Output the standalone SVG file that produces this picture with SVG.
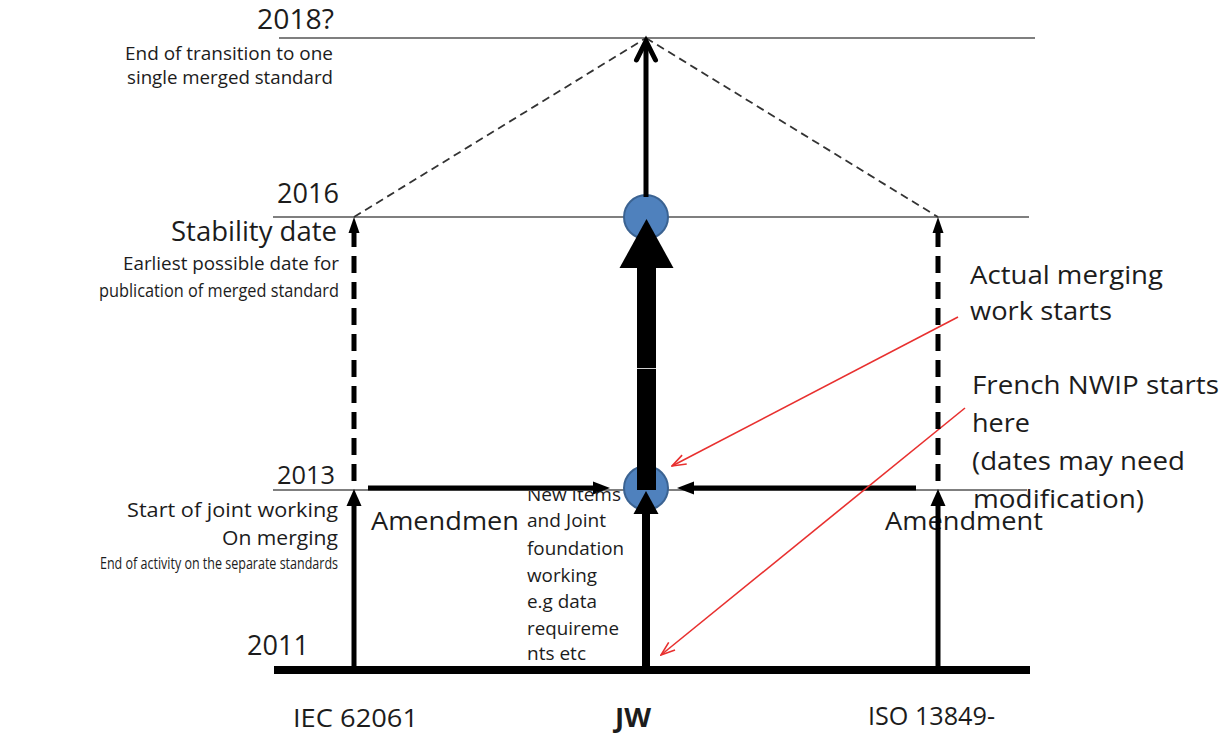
<svg xmlns="http://www.w3.org/2000/svg" width="1231" height="733" viewBox="0 0 1231 733">
<style>
text{font-family:"Open Sans","Noto Sans","Liberation Sans",sans-serif;fill:#1c1c1c}
.yr{font-size:27px}
.sm{font-size:18px}
.md{font-size:20px}
.lg{font-size:26px}
.note{font-size:25px}
.end{text-anchor:end}
.grid{stroke:#555;stroke-width:1.6;fill:none}
.blk{stroke:#000;fill:none}
.dash{stroke:#000;stroke-width:5;stroke-dasharray:17 9;fill:none}
.diag{stroke:#333;stroke-width:1.8;stroke-dasharray:8 5;fill:none}
.head{fill:#000}
.node{fill:#4f81bd;stroke:#3b6392;stroke-width:2}
.red{stroke:#e8302f;stroke-width:1.6;fill:none}
</style>
<defs>
<marker id="ra" viewBox="0 0 16 12" refX="15" refY="6" markerWidth="16" markerHeight="12" markerUnits="userSpaceOnUse" orient="auto">
<path d="M1,1 L15,6 L1,11" fill="none" stroke="#e8302f" stroke-width="1.6"/>
</marker>
<clipPath id="clipNew"><rect x="500" y="491" width="200" height="200"/></clipPath>
</defs>
<rect width="1231" height="733" fill="#fff"/>

<g id="timeline">
<line class="grid" x1="279" y1="38" x2="1035" y2="38"/>
<line class="grid" x1="273" y1="217" x2="1029" y2="217"/>
<line class="grid" x1="273" y1="490" x2="1027" y2="490"/>
<line class="blk" x1="274" y1="670" x2="1030" y2="670" stroke-width="8"/>
</g>

<g id="year-labels">
<text class="yr" x="334" y="29" textLength="77" lengthAdjust="spacingAndGlyphs" text-anchor="end">2018?</text>
<text class="sm end" x="333" y="60" textLength="208" lengthAdjust="spacingAndGlyphs">End of transition to one</text>
<text class="sm end" x="333" y="84" textLength="206" lengthAdjust="spacingAndGlyphs">single merged standard</text>
<text class="yr end" x="339" y="203" textLength="62" lengthAdjust="spacingAndGlyphs">2016</text>
<text class="end" x="337" y="241" font-size="28" textLength="166" lengthAdjust="spacingAndGlyphs">Stability date</text>
<text class="sm end" x="339" y="270" textLength="216" lengthAdjust="spacingAndGlyphs">Earliest possible date for</text>
<text class="sm end" x="339" y="297" textLength="240" lengthAdjust="spacingAndGlyphs">publication of merged standard</text>
<text class="end" x="335" y="484" font-size="25" textLength="58" lengthAdjust="spacingAndGlyphs">2013</text>
<text class="md end" x="338" y="517" textLength="211" lengthAdjust="spacingAndGlyphs">Start of joint working</text>
<text class="md end" x="338" y="545" textLength="116" lengthAdjust="spacingAndGlyphs">On merging</text>
<text class="end" x="338" y="569" font-size="16" textLength="238" lengthAdjust="spacingAndGlyphs">End of activity on the separate standards</text>
<text class="yr" x="247" y="655" textLength="62" lengthAdjust="spacingAndGlyphs">2011</text>
</g>

<g id="connectors">
<line class="diag" x1="354" y1="217" x2="646" y2="38"/>
<line class="diag" x1="646" y1="38" x2="938" y2="217"/>
<line class="blk" x1="368" y1="488" x2="595" y2="488" stroke-width="5"/>
<polygon class="head" points="610,488 593,481.5 593,494.5"/>
<line class="blk" x1="916" y1="488" x2="692" y2="488" stroke-width="5"/>
<polygon class="head" points="677,488 694,481.5 694,494.5"/>
<line class="red" x1="958" y1="317" x2="672" y2="466" marker-end="url(#ra)"/>
<line class="red" x1="965" y1="408" x2="661" y2="655" marker-end="url(#ra)"/>
</g>

<g id="col-iec">
<line class="blk" x1="354" y1="667" x2="354" y2="502" stroke-width="5"/>
<polygon class="head" points="354,489 346.5,506 361.5,506"/>
<line class="dash" x1="354" y1="230" x2="354" y2="483"/>
<polygon class="head" points="354,217 348.5,233 359.5,233"/>
<text class="lg" x="371" y="530" textLength="148" lengthAdjust="spacingAndGlyphs">Amendmen</text>
<text class="lg" x="293" y="727" textLength="125" lengthAdjust="spacingAndGlyphs">IEC 62061</text>
</g>

<g id="col-iso">
<text class="lg" x="885" y="530" textLength="158" lengthAdjust="spacingAndGlyphs">Amendment</text>
<line class="blk" x1="938" y1="667" x2="938" y2="502" stroke-width="5"/>
<polygon class="head" points="938,489 930.5,506 945.5,506"/>
<line class="dash" x1="938" y1="230" x2="938" y2="483"/>
<polygon class="head" points="938,217 932.5,233 943.5,233"/>
<text class="lg" x="868" y="725" textLength="127" lengthAdjust="spacingAndGlyphs">ISO 13849-</text>
</g>

<g id="col-jw">
<circle class="node" cx="646" cy="217" r="22"/>
<line class="blk" x1="646" y1="197" x2="646" y2="43" stroke-width="5"/>
<polyline class="blk" points="636.5,60 646,41 655.5,60" stroke-width="5" stroke-linecap="round" stroke-linejoin="miter"/>
<circle class="node" cx="646" cy="488" r="22"/>
<rect x="637" y="264" width="19" height="226" fill="#000"/>
<polygon class="head" points="646.5,219 619.5,268 673.5,268"/>
<line x1="637" y1="368.5" x2="656" y2="368.5" stroke="#cfcfcf" stroke-width="1"/>
<line class="blk" x1="646" y1="667" x2="646" y2="510" stroke-width="8"/>
<polygon class="head" points="646,491 633.5,514 658.5,514"/>
<text x="615" y="727" font-size="26" font-weight="bold" textLength="36" lengthAdjust="spacingAndGlyphs">JW</text>
</g>

<g id="jw-note" clip-path="url(#clipNew)" class="sm">
<text x="527" y="501" textLength="94" lengthAdjust="spacingAndGlyphs">New Items</text>
<text x="527" y="527" textLength="79" lengthAdjust="spacingAndGlyphs">and Joint</text>
<text x="527" y="555" textLength="97" lengthAdjust="spacingAndGlyphs">foundation</text>
<text x="527" y="582" textLength="70" lengthAdjust="spacingAndGlyphs">working</text>
<text x="527" y="608" textLength="70" lengthAdjust="spacingAndGlyphs">e.g data</text>
<text x="527" y="635" textLength="92" lengthAdjust="spacingAndGlyphs">requireme</text>
<text x="527" y="660" textLength="59" lengthAdjust="spacingAndGlyphs">nts etc</text>
</g>

<g id="notes-right" class="note">
<text x="970" y="284" textLength="193" lengthAdjust="spacingAndGlyphs">Actual merging</text>
<text x="970" y="320" textLength="142" lengthAdjust="spacingAndGlyphs">work starts</text>
<text x="972" y="394" textLength="247" lengthAdjust="spacingAndGlyphs">French NWIP starts</text>
<text x="972" y="432" textLength="58" lengthAdjust="spacingAndGlyphs">here</text>
<text x="972" y="470" textLength="213" lengthAdjust="spacingAndGlyphs">(dates may need</text>
<text x="973" y="508" textLength="171" lengthAdjust="spacingAndGlyphs">modification)</text>
</g>
</svg>
